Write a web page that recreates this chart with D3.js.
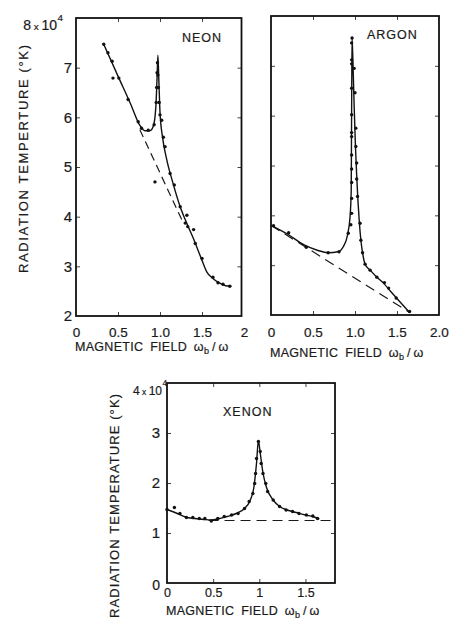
<!DOCTYPE html>
<html><head><meta charset="utf-8">
<script src="https://cdn.jsdelivr.net/npm/d3@7/dist/d3.min.js"></script>
<style>
body{margin:0;background:#fff}
text{font-family:"Liberation Sans",Arial,sans-serif;fill:#1a1a1a;stroke:#1a1a1a;stroke-width:0.2}
.tk line{stroke:#444;stroke-width:1}
.tk path{display:none}
</style></head><body>
<script>
// ticks and labels
var neonXTicks=[0,0.5,1,1.5,2], neonXLabels=["0","0.5","1.0","1.5","2"];
var neonYTicks=[2,3,4,5,6,7];
var argonXTicks=[0,0.5,1,1.5,2], argonXLabels=["0","0.5","1.0","1.5","2.0"];
var argonYTicks=[3,4,5,6,7];
var xenonXTicks=[0,0.5,1,1.5], xenonXLabels=["0","0.5","1","1.5"];
var xenonYTicks=[0,1,2,3];

// neon (x = wb/w, y = T in 1e4 K)
var neonDots=[[0.33,7.47],[0.38,7.3],[0.43,7.13],[0.44,6.79],[0.51,6.79],[0.62,6.36],[0.74,5.91],[0.78,5.78],
  [0.86,5.74],[0.93,5.85],[0.955,6.3],[0.96,6.6],[0.965,6.9],[0.97,7.1],[0.975,6.85],[0.98,6.6],[0.99,6.3],
  [1.0,6.05],[1.02,5.94],[1.04,5.6],[1.06,5.41],[1.12,4.87],[1.17,4.64],[0.94,4.70],[1.24,4.2],[1.32,4.03],
  [1.30,3.87],[1.33,3.8],[1.40,3.74],[1.42,3.46],[1.50,3.16],[1.63,2.78],[1.69,2.67],[1.75,2.64],[1.83,2.6]];
var neonCurve=[[0.33,7.47],[0.5,6.83],[0.65,6.27],[0.76,5.84],[0.82,5.73],[0.88,5.73],[0.92,5.82],[0.95,6.2],
  [0.965,6.8],[0.975,7.25],[0.985,6.8],[1.0,6.1],[1.03,5.6],[1.08,5.15],[1.15,4.7],[1.24,4.2],[1.31,3.9],
  [1.4,3.55],[1.5,3.12],[1.56,2.88],[1.62,2.77],[1.7,2.67],[1.78,2.61],[1.85,2.6]];
var neonDash=[[0.76,5.75],[1.27,3.9]];

// argon
var argonDots=[[0.03,3.79],[0.21,3.65],[0.42,3.36],[0.68,3.25],[0.81,3.27],[0.92,3.64],[0.95,3.81],[0.96,4.04],
  [0.96,4.34],[0.96,4.66],[0.96,4.93],[0.96,5.21],[0.96,5.58],[0.96,5.66],[0.96,6.02],[0.96,6.55],[0.96,7.04],
  [0.96,7.12],[0.96,7.46],[0.965,7.56],[0.99,6.95],[1.0,6.46],[1.01,5.75],[1.01,5.38],[1.02,5.05],[1.02,4.73],
  [1.03,4.38],[1.06,3.84],[1.07,3.5],[1.09,3.25],[1.12,3.02],[1.18,2.9],[1.26,2.76],[1.35,2.65],[1.40,2.54],
  [1.49,2.34],[1.65,2.07]];
var argonCurve=[[0,3.8],[0.2,3.62],[0.4,3.4],[0.55,3.3],[0.68,3.25],[0.8,3.27],[0.86,3.37],[0.91,3.6],[0.94,3.95],
  [0.955,4.5],[0.958,5.5],[0.961,6.5],[0.965,7.56],[0.975,7.1],[0.99,6.2],[1.005,5.4],[1.02,4.8],[1.035,4.3],
  [1.05,3.9],[1.07,3.5],[1.09,3.25],[1.12,3.02],[1.18,2.9],[1.26,2.76],[1.35,2.62],[1.42,2.48],[1.5,2.33],
  [1.58,2.18],[1.65,2.05]];
var argonDash=[[0,3.8],[1.65,2.05]];

// xenon
var xenonDots=[[0,1.47],[0.08,1.51],[0.14,1.39],[0.21,1.31],[0.28,1.31],[0.35,1.29],[0.41,1.29],[0.48,1.24],
  [0.55,1.29],[0.62,1.33],[0.70,1.36],[0.77,1.39],[0.84,1.49],[0.89,1.63],[0.93,1.79],[0.95,1.99],[0.96,2.19],
  [0.97,2.49],[0.99,2.83],[1.01,2.63],[1.02,2.39],[1.04,2.19],[1.07,1.99],[1.09,1.83],[1.15,1.66],[1.22,1.53],
  [1.29,1.46],[1.36,1.43],[1.43,1.39],[1.51,1.36],[1.58,1.34],[1.63,1.29]];
var xenonCurve=[[0,1.47],[0.1,1.4],[0.2,1.32],[0.3,1.29],[0.4,1.27],[0.48,1.26],[0.55,1.28],[0.65,1.33],
  [0.75,1.39],[0.84,1.49],[0.9,1.65],[0.94,1.9],[0.97,2.4],[0.99,2.85],[1.01,2.6],[1.04,2.2],[1.08,1.9],
  [1.15,1.66],[1.22,1.53],[1.3,1.46],[1.4,1.41],[1.5,1.36],[1.58,1.33],[1.65,1.28]];
var xenonDash=[[0.45,1.25],[1.83,1.25]];

var svg=d3.select("body").append("svg").attr("width",451).attr("height",620);

function panel(o){
  var x=d3.scaleLinear().domain(o.xd).range(o.xr);
  var y=d3.scaleLinear().domain(o.yd).range(o.yr);
  var g=svg.append("g");
  var L=o.xr[0],R=o.xr[1],T=o.yr[1],B=o.yr[0];
  // inward ticks on all four sides
  var xt=o.xt.filter(function(v){return v>o.xd[0]&&v<o.xd[1];});
  var yt=o.yt.filter(function(v){return v>o.yd[0]&&v<o.yd[1];});
  g.append("g").attr("class","tk").attr("transform","translate(0,"+B+")")
    .call(d3.axisBottom(x).tickValues(xt).tickSize(-4).tickFormat(""));
  g.append("g").attr("class","tk").attr("transform","translate(0,"+T+")")
    .call(d3.axisTop(x).tickValues(xt).tickSize(-4).tickFormat(""));
  g.append("g").attr("class","tk").attr("transform","translate("+L+",0)")
    .call(d3.axisLeft(y).tickValues(yt).tickSize(-4).tickFormat(""));
  g.append("g").attr("class","tk").attr("transform","translate("+R+",0)")
    .call(d3.axisRight(y).tickValues(yt).tickSize(-4).tickFormat(""));
  g.append("rect").attr("x",L).attr("y",T).attr("width",R-L).attr("height",B-T)
    .attr("fill","none").attr("stroke","#111").attr("stroke-width",1.8);
  // tick labels
  var xl=g.append("g").attr("class","tk").attr("transform","translate(0,"+B+")")
    .call(d3.axisBottom(x).tickValues(o.xt).tickSize(0).tickPadding(o.xpad)
      .tickFormat(function(d,i){return o.xlab[i];}));
  xl.selectAll("text").attr("fill","#1a1a1a").style("font-size",o.xfs+"px").attr("dy","0");
  if(o.ylab){
    var yl=g.append("g").attr("class","tk").attr("transform","translate("+L+",0)")
      .call(d3.axisLeft(y).tickValues(o.ylab).tickSize(0).tickPadding(o.ypad).tickFormat(d3.format("d")));
    yl.selectAll("text").attr("fill","#1a1a1a").style("font-size",o.yfs+"px");
  }
  var line=d3.line().x(function(d){return x(d[0]);}).y(function(d){return y(d[1]);});
  g.append("path").attr("d",line(o.dash)).attr("fill","none").attr("stroke","#1a1a1a")
    .attr("stroke-width",1.2).attr("stroke-dasharray",o.dashArr);
  g.append("path").attr("d",line.curve(d3.curveMonotoneX)(o.curve)).attr("fill","none")
    .attr("stroke","#111").attr("stroke-width",1.4);
  g.selectAll("circle").data(o.dots).enter().append("circle")
    .attr("cx",function(d){return x(d[0]);}).attr("cy",function(d){return y(d[1]);})
    .attr("r",1.7).attr("fill","#111");
  g.append("text").attr("x",o.title[1]).attr("y",o.title[2]).style("font-size","12.5px")
    .style("letter-spacing","1px").text(o.title[0]);
  // x axis title
  var t=g.append("text").attr("x",L-1).attr("y",o.xtY).style("font-size","12.5px")
    .style("word-spacing","3px").style("letter-spacing","0.3px");
  t.append("tspan").text("MAGNETIC FIELD ω");
  t.append("tspan").attr("dy",2.5).style("font-size","9px").text("b");
  t.append("tspan").attr("dy",-2.5).text("\u2009/\u2009ω");
  return g;
}

panel({xd:[0,1.97],xr:[76,241.5],yd:[2,8],yr:[316,18],xt:neonXTicks,yt:neonYTicks,xlab:neonXLabels,
  xpad:21,xfs:13.5,ylab:[2,3,4,5,6,7],ypad:4,yfs:15,dots:neonDots,curve:neonCurve,dash:neonDash,
  dashArr:"8,5",title:["NEON",182,42],xtY:351});
panel({xd:[0,2],xr:[271,439],yd:[2,8],yr:[315,16],xt:argonXTicks,yt:argonYTicks,xlab:argonXLabels,
  xpad:22,xfs:13.5,dots:argonDots,curve:argonCurve,dash:argonDash,
  dashArr:"10,6",title:["ARGON",367,39],xtY:357});
panel({xd:[0,1.82],xr:[167,335],yd:[0,4],yr:[583,383],xt:xenonXTicks,yt:xenonYTicks,xlab:xenonXLabels,
  xpad:14,xfs:12.5,ylab:[1,2,3],ypad:7,yfs:15,dots:xenonDots,curve:xenonCurve,dash:xenonDash,
  dashArr:"10,6",title:["XENON",223,416],xtY:615});

// exponent labels
function expo(xr,yb,base,fs){
  var t=svg.append("text").attr("x",xr).attr("y",yb).attr("text-anchor","end").style("font-size",fs+"px");
  t.append("tspan").text(base);
  t.append("tspan").style("font-size",(fs*0.7)+"px").text(" x ");
  t.append("tspan").text("10");
  svg.append("text").attr("x",xr+0.5).attr("y",yb-9).style("font-size",(fs*0.7)+"px").text("4");
}
expo(57,30,"8",14);
expo(162,395,"4",12);
svg.append("text").attr("x",160).attr("y",590).attr("text-anchor","end").style("font-size","14px").text("0");

// y axis titles
svg.append("text").attr("transform","translate(28,159) rotate(-90)").attr("text-anchor","middle")
  .attr("textLength",228).attr("lengthAdjust","spacing").style("font-size","13px")
  .text("RADIATION TEMPERTURE (°K)");
svg.append("text").attr("transform","translate(119,506) rotate(-90)").attr("text-anchor","middle")
  .attr("textLength",224).attr("lengthAdjust","spacing").style("font-size","13px")
  .text("RADIATION TEMPERATURE (°K)");
</script>
</body></html>
